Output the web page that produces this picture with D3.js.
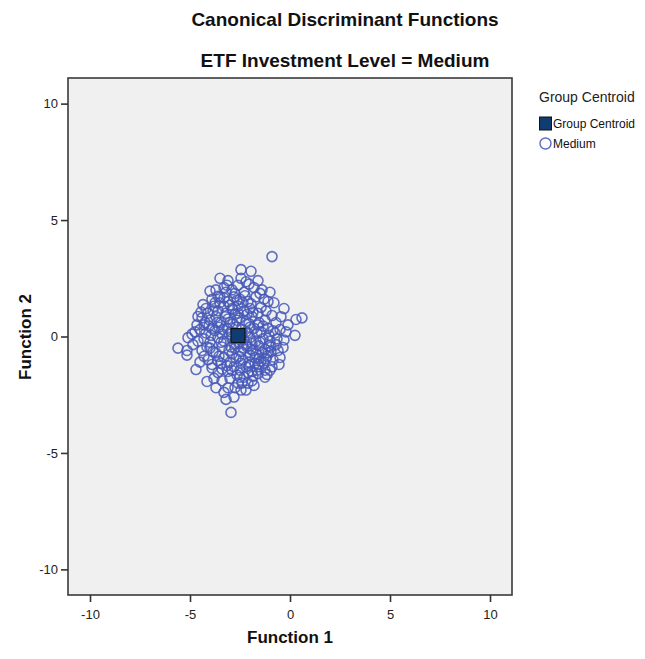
<!DOCTYPE html>
<html>
<head>
<meta charset="utf-8">
<script src="https://cdn.jsdelivr.net/npm/d3@7"></script>
<style>
  body { margin: 0; background: #fff; }
  svg { font-family: "Liberation Sans", Arial, sans-serif; }
</style>
</head>
<body>
<div id="chart"></div>
<script>
const titleLines = ['Canonical Discriminant Functions', 'ETF Investment Level = Medium'];
const xTicks = [-10, -5, 0, 5, 10];
const yTicks = [-10, -5, 0, 5, 10];
const legendItems = ['Group Centroid', 'Medium'];

// centroid of the group (Function 1, Function 2)
const centroid = [-2.6, 0.04];

// discriminant scores
const func1 = [
    -0.9, -2.45, -1.95, -1.6, -2.2, -3.5, -3.1, -4.0, -3.6, -4.35, -4.1, -4.6, -4.3, -4.9, -4.75, -5.1, -5.6, -5.15, -5.15, -4.7,
    -4.15, -3.8, -3.7, -3.2, -2.8, -2.95, -2.1, -1.6, -1.15, -0.35, -0.5, 0.25, 0.3, 0.6, -0.1, -0.3, -0.8, -1.0, -1.4,
    -3.3, -2.9, -2.6, -3.7, -2.3, -1.8,
    -3.9, -3.5, -3.1, -2.8, -2.5, -2.1, -1.7, -1.3, -3.3,
    -4.2, -3.8, -3.6, -3.2, -2.9, -2.6, -2.3, -2.0, -1.6, -1.2, -0.9, -2.75,
    -4.4, -4.0, -3.7, -3.45, -3.1, -2.85, -2.5, -2.2, -1.9, -1.55, -1.25, -0.7, -3.9, -2.0,
    -4.5, -4.2, -3.75, -3.4, -3.15, -2.95, -2.4, -2.1, -1.8, -1.45, -1.1, -0.75, -0.5, -1.6,
    -4.6, -4.3, -4.0, -3.6, -3.3, -2.9, -2.3, -2.0, -1.7, -1.35, -1.0, -0.65, -0.3, -2.55,
    -4.4, -4.0, -3.7, -3.4, -3.05, -2.75, -2.45, -2.15, -1.85, -1.55, -1.25, -0.95, -0.6, -2.0,
    -4.1, -3.6, -3.3, -3.0, -2.7, -2.35, -2.05, -1.75, -1.45, -1.15, -0.85, -2.9,
    -3.9, -3.4, -3.1, -2.8, -2.5, -2.2, -1.9, -1.55, -1.25, -2.65,
    -3.4, -3.0, -2.6, -2.3, -1.9, -3.1, -2.45,
    -2.7, -2.4, -2.8, -3.0, -2.2, -1.95, -1.7, -1.4, -1.1, -3.2, -3.5, -3.0, -2.65, -1.95, -3.85, -4.05, -3.55,
    -1.3, -0.9, -2.1, -1.6, -3.6, -4.3,
    -3.25, -2.35, -1.85, -3.95, -2.55, -1.65, -2.05, -3.45, -2.85, -1.35, -3.65, -2.15, -2.45, -1.05, -3.15, -0.85,
    -2.95, -1.75, -3.75, -2.25, -4.15, -1.55, -2.65, -1.9, -3.35, -2.5, -1.2, -3.55, -2.05, -2.75, -4.45, -1.45,
    -3.85, -2.35, -1.65, -3.05, -0.95, -2.2, -2.9, -1.5, -4.25, -3.3, -2.6, -1.05, -2.4, -3.45, -1.85, -0.7,
    -1.25, -3.9, -2.75, -3.15, -2.45, -2.05, -1.5, -4.65, -4.85, -4.5, -3.3, -2.2, -1.8, -1.0, -0.55, -0.2,
    -0.45, -1.1
];
const func2 = [
    3.43, 2.87, 2.8, 2.4, 2.35, 2.5, 2.4, 1.95, 1.73, 1.37, 1.0, 0.86, 0.5, 0.1, 0.2, -0.05, -0.5, -0.6, -0.8, -1.42,
    -1.93, -1.8, -2.2, -2.7, -2.6, -3.26, -2.0, -1.6, -1.63, -0.47, -0.9, 0.05, 0.73, 0.8, 0.5, 1.2, 1.45, 1.9, 2.0,
    2.1, 2.0, 2.2, 2.0, 1.9, 2.1,
    1.6, 1.7, 1.5, 1.7, 1.6, 1.5, 1.7, 1.6, 1.3,
    1.2, 1.3, 1.1, 1.0, 1.2, 1.3, 1.1, 1.2, 1.0, 1.1, 0.9, 0.95,
    0.8, 0.7, 0.85, 0.6, 0.75, 0.55, 0.8, 0.65, 0.85, 0.6, 0.7, 0.6, 0.35, 0.4,
    0.3, 0.15, 0.25, 0.1, 0.35, 0.2, 0.3, 0.15, 0.35, 0.2, 0.35, 0.15, 0.3, 0.5,
    -0.2, -0.1, -0.25, -0.05, -0.2, -0.1, -0.15, -0.05, -0.2, -0.1, -0.2, -0.1, -0.15, -0.3,
    -0.6, -0.5, -0.7, -0.45, -0.6, -0.5, -0.65, -0.45, -0.6, -0.4, -0.55, -0.45, -0.6, -0.8,
    -1.0, -1.05, -0.9, -1.1, -0.95, -1.0, -1.1, -0.9, -1.05, -0.85, -1.0, -0.75,
    -1.35, -1.4, -1.5, -1.3, -1.45, -1.3, -1.5, -1.3, -1.45, -1.65,
    -1.9, -1.8, -2.0, -1.75, -1.9, -2.2, -2.3,
    0.4, 0.05, -0.3, 0.6, -0.35, -0.55, -0.75, -0.7, -0.7, 1.9, 1.45, 1.35, 1.55, 1.4, 1.1, 0.45, 0.4,
    -1.15, -1.3, -1.55, -1.2, -1.55, -0.85,
    0.85, 1.45, 1.05, 0.05, -0.85, 0.15, -1.25, -0.25, 1.15, 0.45, 0.6, 0.95, -1.15, -0.4, -1.25, 0.25,
    -0.45, -1.15, 1.45, 1.75, -0.45, -0.95, 0.7, -0.3, 0.3, -1.75, -0.95, -0.85, 0.55, 1.85, 1.05, 1.25,
    -0.65, -0.5, -1.45, 0.1, -0.65, 0.2, -1.45, -0.25, 0.6, 1.65, 1.0, 0.05, -2.0, -1.15, -1.7, -0.35,
    -1.75, -1.2, -2.2, 2.2, 2.5, 2.25, 1.85, 0.5, -0.35, -1.1, -2.4, -2.3, -2.1, -1.45, -1.2, 0.2,
    0.85, 1.5
];

const width = 645;
const height = 659;
const plot = {left: 68, top: 78, right: 512, bottom: 595};

const x = d3.scaleLinear().domain([-11.1, 11.1]).range([plot.left, plot.right]);
const y = d3.scaleLinear().domain([-11.1, 11.1]).range([plot.bottom, plot.top]);

const svg = d3.select('#chart')
    .append('svg')
    .attr('width', width)
    .attr('height', height);

// titles
svg.selectAll('text.title')
    .data(titleLines)
    .enter()
    .append('text')
    .attr('class', 'title')
    .attr('x', 345)
    .attr('y', (d, i) => 26 + i * 41)
    .attr('text-anchor', 'middle')
    .attr('font-size', 19)
    .attr('font-weight', 'bold')
    .attr('fill', '#111')
    .text(d => d);

// plot background
svg.append('rect')
    .attr('x', plot.left)
    .attr('y', plot.top)
    .attr('width', plot.right - plot.left)
    .attr('height', plot.bottom - plot.top)
    .attr('fill', '#f0f0f0')
    .attr('stroke', '#3a3a3a')
    .attr('stroke-width', 1.6);

const xAxis = d3.axisBottom(x).tickValues(xTicks).tickSize(7).tickSizeOuter(0).tickFormat(d => String(d));
const yAxis = d3.axisLeft(y).tickValues(yTicks).tickSize(7).tickSizeOuter(0).tickFormat(d => String(d));

const gx = svg.append('g')
    .attr('class', 'x axis')
    .attr('transform', `translate(0,${plot.bottom})`)
    .call(xAxis);

const gy = svg.append('g')
    .attr('class', 'y axis')
    .attr('transform', `translate(${plot.left},0)`)
    .call(yAxis);

[gx, gy].forEach(g => {
    g.select('.domain').remove();
    g.selectAll('line').attr('stroke', '#333').attr('stroke-width', 1.6);
    g.selectAll('text')
        .attr('font-size', 13)
        .attr('fill', '#222')
        .attr('font-family', '"Liberation Sans", Arial, sans-serif');
});
gx.selectAll('text').attr('dy', '1.1em');

// axis titles
svg.append('text')
    .attr('x', 290)
    .attr('y', 643)
    .attr('text-anchor', 'middle')
    .attr('font-size', 17)
    .attr('font-weight', 'bold')
    .attr('fill', '#111')
    .text('Function 1');

svg.append('text')
    .attr('transform', 'translate(31,337) rotate(-90)')
    .attr('text-anchor', 'middle')
    .attr('font-size', 17)
    .attr('font-weight', 'bold')
    .attr('fill', '#111')
    .text('Function 2');

// scores
const points = func1.map((d, i) => [d, func2[i]]);

svg.append('g')
    .selectAll('circle')
    .data(points)
    .enter()
    .append('circle')
    .attr('cx', d => x(d[0]))
    .attr('cy', d => y(d[1]))
    .attr('r', 5)
    .attr('fill', 'none')
    .attr('stroke', '#4558b8')
    .attr('stroke-opacity', 0.85)
    .attr('stroke-width', 1.6);

// group centroid
svg.append('rect')
    .attr('x', x(centroid[0]) - 7)
    .attr('y', y(centroid[1]) - 7)
    .attr('width', 14)
    .attr('height', 14)
    .attr('fill', '#0f3d72')
    .attr('stroke', '#111')
    .attr('stroke-width', 1.2);

// legend
const legend = svg.append('g').attr('transform', 'translate(539,0)');

legend.append('text')
    .attr('x', 0)
    .attr('y', 102)
    .attr('font-size', 14)
    .attr('fill', '#222')
    .text('Group Centroid');

legend.append('rect')
    .attr('x', 0.5)
    .attr('y', 117)
    .attr('width', 12)
    .attr('height', 13)
    .attr('fill', '#0f3d72')
    .attr('stroke', '#111')
    .attr('stroke-width', 1);

legend.append('circle')
    .attr('cx', 6.5)
    .attr('cy', 143.5)
    .attr('r', 5.5)
    .attr('fill', 'none')
    .attr('stroke', '#5a6cc4')
    .attr('stroke-width', 1.4);

legend.selectAll('text.item')
    .data(legendItems)
    .enter()
    .append('text')
    .attr('class', 'item')
    .attr('x', 14)
    .attr('y', (d, i) => 128 + i * 20)
    .attr('font-size', 12)
    .attr('fill', '#111')
    .text(d => d);
</script>
</body>
</html>
